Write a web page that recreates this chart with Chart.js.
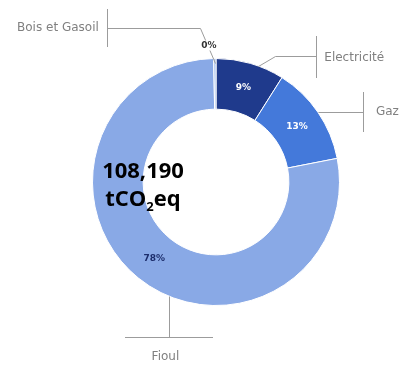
<!DOCTYPE html>
<html>
<head>
<meta charset="utf-8">
<script src="https://cdn.jsdelivr.net/npm/chart.js@4/dist/chart.umd.min.js"></script>
<style>
  html, body { margin: 0; padding: 0; background: #ffffff; }
  #wrap { position: relative; width: 406px; height: 365px; }
</style>
</head>
<body>
<div id="wrap"><canvas id="c"></canvas></div>
<script>
// Emission sources (share of total, %)
const categories = ['Electricité', 'Gaz', 'Fioul', 'Bois et Gasoil'];
const shares = [9, 13, 78, 0.3];
const sliceColors = ['#1f3a8c', '#4479da', '#89a9e6', '#a3bdec'];
const percentColors = ['#ffffff', '#ffffff', '#1c2d6b', '#333333'];

// Total shown in the hole
const totalValue = '108,190';
const totalUnit = ['tCO', '2', 'eq'];

// Callout layout for each slice: anchor point on the ring (fraction along the arc),
// leader polyline and end bar relative to the anchor, label position.
const callouts = [
  { frac: 0.62, path: [[0, 0], [17, -10], [58, -10]], bar: { x: 58, y1: -30, y2: 12 },
    text: { x: 66, y: -8, align: 'left' }, pct: 'inside' },
  { frac: 0.5, path: [[0, 0], [45, 0]], bar: { x: 45, y1: -20, y2: 20 },
    text: { x: 58, y: 0, align: 'left' }, pct: 'inside' },
  { frac: 0.44, path: [[0, 0], [0, 41]], hbar: { y: 41, x1: -44, x2: 44 },
    text: { x: -4, y: 60, align: 'center' }, pct: 'inside' },
  { frac: 0.5, path: [[0, 4], [-15, -31], [-108, -31]], bar: { x: -108, y1: -50, y2: -12 },
    text: { x: -116, y: -31, align: 'right' }, pct: { x: -6, y: -13 } }
];

const calloutPlugin = {
  id: 'callouts',
  afterDatasetsDraw(chart) {
    const ctx = chart.ctx;
    const meta = chart.getDatasetMeta(0);
    const data = chart.data.datasets[0].data;
    const total = data.reduce((a, b) => a + b, 0);
    ctx.save();
    meta.data.forEach((arc, i) => {
      const p = arc.getProps(['x', 'y', 'startAngle', 'endAngle', 'innerRadius', 'outerRadius'], true);
      const c = callouts[i];
      const ang = p.startAngle + (p.endAngle - p.startAngle) * c.frac;
      const ax = p.x + p.outerRadius * Math.cos(ang);
      const ay = p.y + p.outerRadius * Math.sin(ang);

      // leader line
      ctx.strokeStyle = '#9c9c9c';
      ctx.lineWidth = 1;
      ctx.beginPath();
      c.path.forEach(([dx, dy], k) => {
        const px = Math.round(ax + dx) + 0.5, py = Math.round(ay + dy) + 0.5;
        if (k === 0) ctx.moveTo(px, py); else ctx.lineTo(px, py);
      });
      if (c.bar) {
        const bx = Math.round(ax + c.bar.x) + 0.5;
        ctx.moveTo(bx, Math.round(ay + c.bar.y1));
        ctx.lineTo(bx, Math.round(ay + c.bar.y2));
      }
      if (c.hbar) {
        const by = Math.round(ay + c.hbar.y) + 0.5;
        ctx.moveTo(Math.round(ax + c.hbar.x1), by);
        ctx.lineTo(Math.round(ax + c.hbar.x2), by);
      }
      ctx.stroke();

      // category name
      ctx.font = '12px "DejaVu Sans", sans-serif';
      ctx.fillStyle = '#808080';
      ctx.textAlign = c.text.align;
      ctx.textBaseline = 'middle';
      ctx.fillText(chart.data.labels[i], ax + c.text.x, ay + c.text.y);

      // percentage
      const pctText = Math.round(data[i] / total * 100) + '%';
      ctx.font = 'bold 9px "DejaVu Sans", sans-serif';
      ctx.textAlign = 'center';
      let tx, ty;
      if (c.pct === 'inside') {
        const mid = (p.startAngle + p.endAngle) / 2;
        const r = (p.innerRadius + p.outerRadius) / 2;
        tx = p.x + r * Math.cos(mid);
        ty = p.y + r * Math.sin(mid);
      } else {
        tx = ax + c.pct.x;
        ty = ay + c.pct.y;
        const w = ctx.measureText(pctText).width;
        ctx.fillStyle = '#ffffff';
        ctx.fillRect(tx - w / 2 - 1, ty - 5, w + 2, 10);
      }
      ctx.fillStyle = percentColors[i];
      ctx.fillText(pctText, tx, ty);
    });

    // total in the hole
    const a0 = meta.data[0];
    const cx = a0.x - 73, cy = a0.y;
    ctx.fillStyle = '#000000';
    ctx.textBaseline = 'alphabetic';
    ctx.textAlign = 'center';
    ctx.font = 'bold 22px "Open Sans", sans-serif';
    ctx.fillText(totalValue, cx, cy - 4);

    const big = 'bold 22px "Open Sans", sans-serif';
    const small = 'bold 13px "Open Sans", sans-serif';
    ctx.font = big; const w1 = ctx.measureText(totalUnit[0]).width;
    const w3 = ctx.measureText(totalUnit[2]).width;
    ctx.font = small; const w2 = ctx.measureText(totalUnit[1]).width;
    let x = cx - (w1 + w2 + w3) / 2;
    ctx.textAlign = 'left';
    ctx.font = big; ctx.fillText(totalUnit[0], x, cy + 24); x += w1;
    ctx.font = small; ctx.fillText(totalUnit[1], x, cy + 29); x += w2;
    ctx.font = big; ctx.fillText(totalUnit[2], x, cy + 24);
    ctx.restore();
  }
};

new Chart(document.getElementById('c'), {
  type: 'doughnut',
  data: {
    labels: categories,
    datasets: [{
      data: shares,
      backgroundColor: sliceColors,
      borderColor: '#ffffff',
      borderWidth: 1
    }]
  },
  options: {
    responsive: true,
    maintainAspectRatio: false,
    animation: false,
    cutout: '59%',
    layout: { padding: { top: 58, bottom: 59, left: 92, right: 66 } },
    plugins: { legend: { display: false }, tooltip: { enabled: false } }
  },
  plugins: [calloutPlugin]
});
</script>
</body>
</html>
